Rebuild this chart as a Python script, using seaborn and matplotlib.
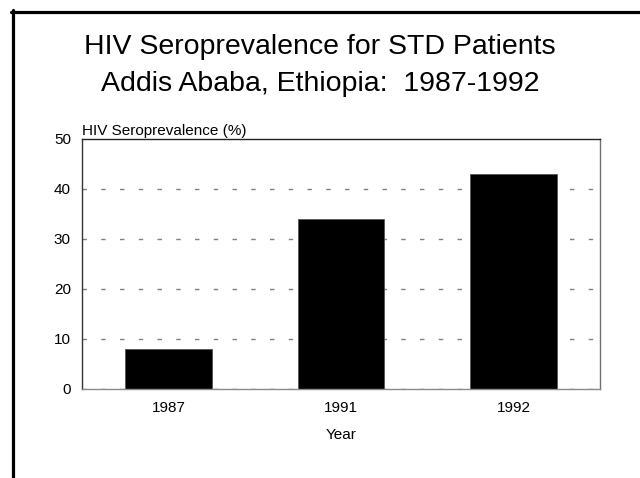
import matplotlib
matplotlib.use("Agg")
import matplotlib.pyplot as plt
from matplotlib.lines import Line2D
import seaborn as sns
import pandas as pd

# HIV seroprevalence among STD patients, Addis Ababa
years = ["1987", "1991", "1992"]
prevalence = [8, 34, 43]
y_ticks = [0, 10, 20, 30, 40, 50]

df = pd.DataFrame({"Year": years, "Prevalence": prevalence})

sns.set_theme(style="white")
plt.rcParams["font.family"] = ["Liberation Sans", "DejaVu Sans"]
plt.rcParams["text.color"] = "black"
plt.rcParams["axes.labelcolor"] = "black"

W, H = 640, 478
fig = plt.figure(figsize=(W / 100, H / 100), dpi=100)
ax = fig.add_axes([82 / W, 1 - 389 / H, (600 - 82) / W, (389 - 139) / H])

sns.barplot(data=df, x="Year", y="Prevalence", color="black", width=0.5,
            edgecolor="#555555", linewidth=0.6, saturation=1, ax=ax)

ax.set_ylim(0, 50)
ax.set_xlim(-0.5, len(years) - 0.5)
ax.set_yticks(y_ticks)
ax.tick_params(axis="both", length=0, labelsize=11, colors="black")
ax.tick_params(axis="y", pad=8)
ax.tick_params(axis="x", pad=9)

# dashed horizontal reference lines behind the bars
ax.set_axisbelow(True)
for v in y_ticks[:-1]:
    ax.axhline(v, color="#808080", linewidth=1.0, dashes=(3.2, 10.3), zorder=0.5)

for side, col in [("left", "#333333"), ("top", "#222222"),
                  ("right", "#707070"), ("bottom", "#8a8a8a")]:
    ax.spines[side].set_visible(True)
    ax.spines[side].set_color(col)
    ax.spines[side].set_linewidth(1.0)

ax.set_xlabel("Year", fontsize=11, labelpad=9, color="black")
ax.set_ylabel("")
ax.text(0, 1.005, "HIV Seroprevalence (%)", transform=ax.transAxes,
        ha="left", va="bottom", fontsize=11, color="black")

fig.text(0.5, 1 - 47 / H, "HIV Seroprevalence for STD Patients",
         ha="center", va="center", fontsize=20.5, color="black")
fig.text(0.5, 1 - 84 / H, "Addis Ababa, Ethiopia:  1987-1992",
         ha="center", va="center", fontsize=20.5, color="black")

# slide frame: heavy rule along the top and left edges
fig.add_artist(Line2D([11 / W, 1.0], [1 - 11.5 / H, 1 - 11.5 / H],
                      transform=fig.transFigure, color="black", linewidth=2.3))
fig.add_artist(Line2D([12.5 / W, 12.5 / W], [1 - 10 / H, 0.0],
                      transform=fig.transFigure, color="black", linewidth=2.3))

fig.savefig("out.png", dpi=100, facecolor="white")
